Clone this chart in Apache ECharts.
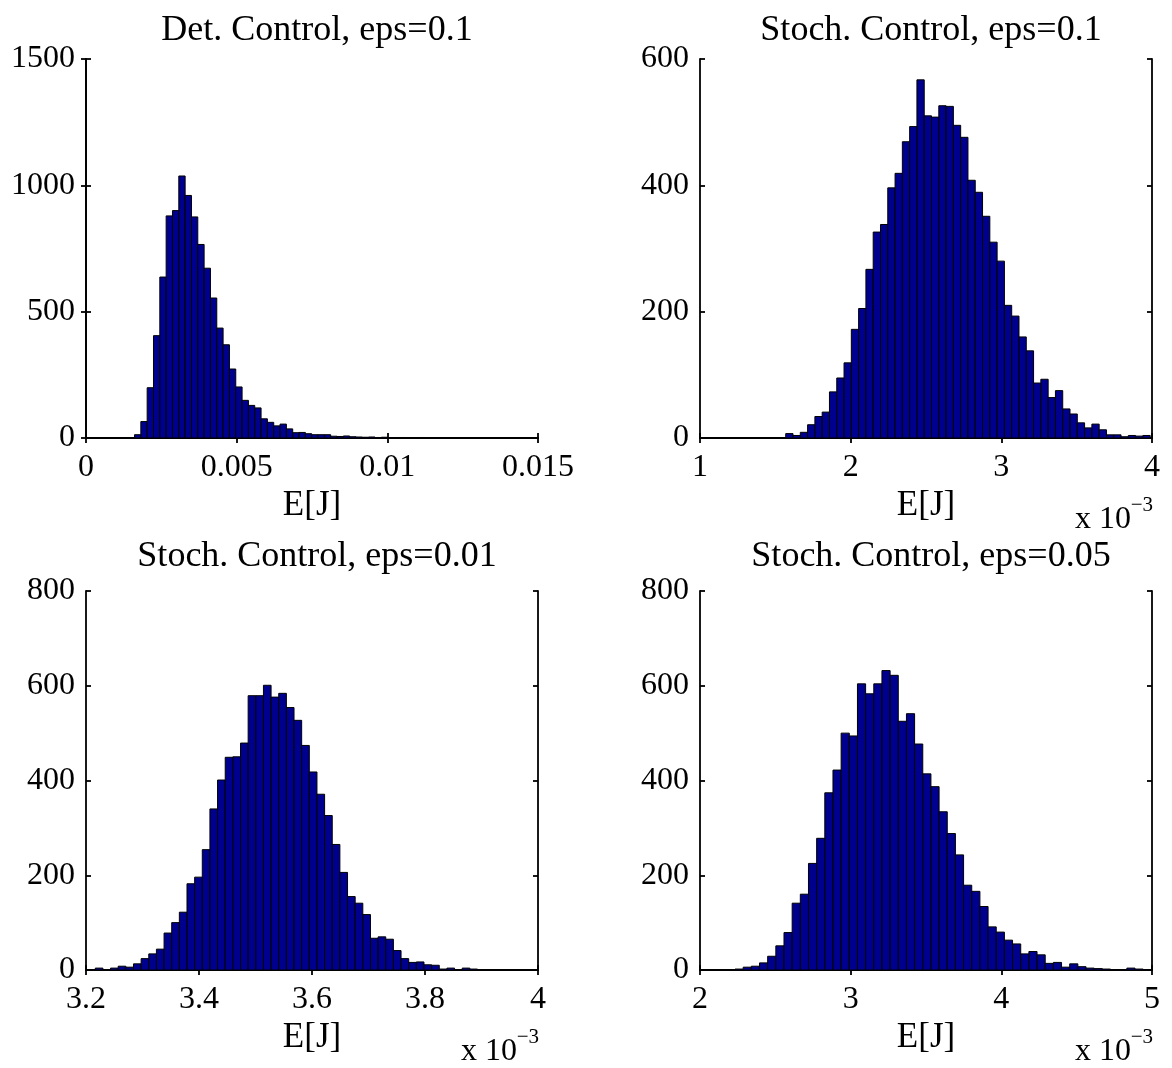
<!DOCTYPE html>
<html>
<head>
<meta charset="utf-8">
<script src="https://cdn.jsdelivr.net/npm/echarts@6/dist/echarts.min.js"></script>
<style>
  html, body { margin: 0; padding: 0; background: #fff; }
  #chart { width: 1172px; height: 1068px; }
</style>
</head>
<body>
<div id="chart"></div>
<script>
// --- DATA (histogram counts, 50 bins each) ---
// Det. Control, eps=0.1  (x in J)
const detCounts = [13, 65, 199, 405, 637, 879, 900, 1037, 960, 875, 766, 672, 554, 435, 369, 273, 202, 149, 129, 119,
    76, 62, 48, 55, 36, 21, 22, 17, 13, 13, 13, 7, 6, 8, 5, 4, 3, 4, 2, 3, 1, 2, 2, 1, 0, 2, 1, 0, 1, 1];
const detBinStart = 0.00161;
const detBinWidth = 0.00021;

// Stoch. Control, eps=0.1  (x in 1e-3 J)
const stoch01Counts = [7, 4, 9, 21, 34, 41, 73, 95, 119, 172, 205, 267, 326, 338, 396, 419, 469, 493, 567, 510,
    508, 526, 525, 495, 476, 408, 389, 351, 310, 280, 210, 193, 160, 138, 87, 93, 64, 75, 46, 38, 24, 16, 22, 13, 5, 5, 2, 4, 3, 4];
const stoch01BinStart = 1.569;
const stoch01BinWidth = 0.04838;

// Stoch. Control, eps=0.01  (x in 1e-3 J)
const stoch001Counts = [4, 1, 4, 8, 6, 13, 24, 34, 44, 78, 100, 122, 182, 196, 254, 340, 401, 449, 450, 479,
    579, 579, 601, 576, 584, 554, 527, 474, 418, 371, 326, 265, 206, 155, 141, 117, 67, 70, 65, 41, 24, 16, 17, 11, 10, 2, 4, 0, 4, 2];
const stoch001BinStart = 3.2164;
const stoch001BinWidth = 0.01353;

// Stoch. Control, eps=0.05  (x in 1e-3 J)
const stoch005Counts = [2, 6, 8, 15, 29, 51, 79, 141, 160, 225, 278, 374, 422, 500, 494, 604, 583, 604, 632, 622,
    525, 541, 477, 414, 387, 334, 288, 243, 179, 166, 134, 91, 80, 63, 55, 34, 39, 32, 14, 16, 6, 13, 7, 4, 3, 2, 1, 1, 4, 2];
const stoch005BinStart = 2.2324;
const stoch005BinWidth = 0.05418;

// axis ranges / ticks
const xRanges = [[0, 0.015, 0.005], [1, 4, 1], [3.2, 4, 0.2], [2, 5, 1]];
const yRanges = [[0, 1500, 500], [0, 600, 200], [0, 800, 200], [0, 800, 200]];
const titles = ['Det. Control, eps=0.1', 'Stoch. Control, eps=0.1', 'Stoch. Control, eps=0.01', 'Stoch. Control, eps=0.05'];
const xLabel = 'E[J]';

// --- LAYOUT ---
const FONT = 'Liberation Serif';
const grids = [
    { left: 86, top: 59, width: 452, height: 379 },
    { left: 700, top: 59, width: 452, height: 379 },
    { left: 86, top: 591, width: 452, height: 379 },
    { left: 700, top: 591, width: 452, height: 379 }
];
const titleOffset = [46, 46, 52, 52];
const showScale = [false, true, true, true];

function toBins(counts, start, width) {
    return counts.map((c, i) => [start + i * width, start + (i + 1) * width, c]);
}

const panels = [
    toBins(detCounts, detBinStart, detBinWidth),
    toBins(stoch01Counts, stoch01BinStart, stoch01BinWidth),
    toBins(stoch001Counts, stoch001BinStart, stoch001BinWidth),
    toBins(stoch005Counts, stoch005BinStart, stoch005BinWidth)
];

function renderBar(params, api) {
    const p0 = api.coord([api.value(0), api.value(2)]);
    const p1 = api.coord([api.value(1), 0]);
    return {
        type: 'rect',
        shape: { x: p0[0], y: p0[1], width: p1[0] - p0[0], height: p1[1] - p0[1] },
        style: { fill: '#00008f', stroke: '#000', lineWidth: 1 }
    };
}

// plain numbers, no thousands separator
const fmt = v => String(+v.toFixed(6));

const lineStyle = { color: '#000', width: 1.8 };
const xAxes = [], yAxes = [], series = [], titleList = [], graphics = [];

grids.forEach((g, i) => {
    const [xmin, xmax, xint] = xRanges[i];
    const [ymin, ymax, yint] = yRanges[i];
    const base = {
        gridIndex: i, type: 'value', min: xmin, max: xmax, interval: xint,
        axisLine: { show: true, lineStyle }, splitLine: { show: false },
        axisTick: { show: true, inside: true, length: 5, lineStyle }
    };
    xAxes.push(Object.assign({}, base, {
        position: 'bottom',
        axisLabel: { fontFamily: FONT, fontSize: 32, color: '#000', margin: 14, formatter: fmt },
        name: xLabel, nameLocation: 'middle', nameGap: 50,
        nameTextStyle: { fontFamily: FONT, fontSize: 35, color: '#000' }
    }));
    xAxes.push(Object.assign({}, base, { position: 'top', axisLabel: { show: false } }));

    const ybase = {
        gridIndex: i, type: 'value', min: ymin, max: ymax, interval: yint,
        axisLine: { show: true, lineStyle }, splitLine: { show: false },
        axisTick: { show: true, inside: true, length: 5, lineStyle }
    };
    yAxes.push(Object.assign({}, ybase, {
        position: 'left',
        axisLabel: { fontFamily: FONT, fontSize: 32, color: '#000', margin: 11, formatter: fmt }
    }));
    yAxes.push(Object.assign({}, ybase, { position: 'right', axisLabel: { show: false } }));

    series.push({
        type: 'custom', xAxisIndex: 2 * i, yAxisIndex: 2 * i,
        renderItem: renderBar, data: panels[i], clip: true, silent: true
    });

    titleList.push({
        text: titles[i], left: g.left + g.width / 2 + 5, top: g.top - titleOffset[i], textAlign: 'center', padding: 0,
        textStyle: { fontFamily: FONT, fontSize: 36, fontWeight: 'normal', color: '#000' }
    });

    if (showScale[i]) {
        const right = g.left + g.width;
        const bottom = g.top + g.height;
        graphics.push({
            type: 'text', x: right - 21, y: bottom + 82,
            style: { text: 'x 10', font: '32px "' + FONT + '"', fill: '#000', align: 'right', verticalAlign: 'middle' }
        });
        graphics.push({
            type: 'text', x: right + 1, y: bottom + 67,
            style: { text: '\u22123', font: '21px "' + FONT + '"', fill: '#000', align: 'right', verticalAlign: 'middle' }
        });
    }
});

const chart = echarts.init(document.getElementById('chart'), null, { renderer: 'canvas' });
chart.setOption({
    backgroundColor: '#fff',
    animation: false,
    title: titleList,
    grid: grids,
    xAxis: xAxes,
    yAxis: yAxes,
    series: series,
    graphic: graphics
});
</script>
</body>
</html>
